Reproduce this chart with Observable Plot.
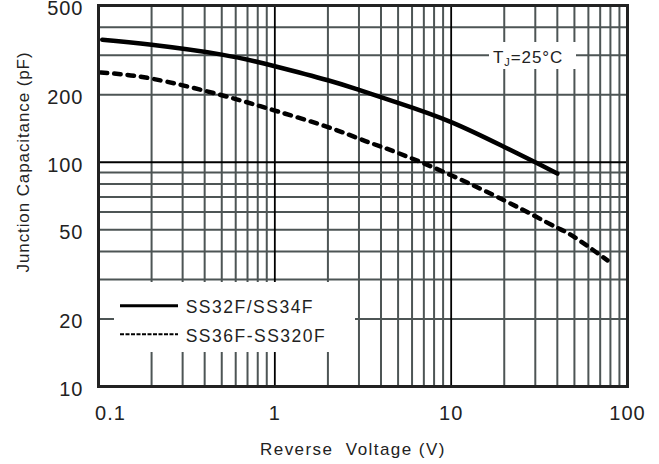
<!DOCTYPE html>
<html><head><meta charset="utf-8">
<script src="https://cdn.jsdelivr.net/npm/d3@7"></script>
<script src="https://cdn.jsdelivr.net/npm/@observablehq/plot@0.6"></script>
<style>
body{margin:0;background:#fff;}
#chart svg{display:block;}
</style></head><body><div id="chart"></div>
<script>
// Data
const voltageSolid = [0.105, 0.2, 0.5, 1, 2, 3, 5, 10, 20, 30, 40];
const capSolid     = [352, 334, 302, 268, 232, 210, 184, 151, 117, 100, 89];
const voltageDashed = [0.103, 0.2, 0.5, 1, 2, 3.29, 5, 10, 20, 30, 40, 50, 77];
const capDashed     = [251, 236, 199, 170, 143.5, 124, 110, 87.5, 67.6, 57.4, 51, 46.4, 36.5];
const seriesNames = ["SS32F/SS34F", "SS36F-SS320F"];
const xTicks = [0.1, 1, 10, 100];
const yTicks = [10, 20, 50, 100, 200, 500];
const minorX = [0.2,0.3,0.4,0.5,0.6,0.7,0.8,0.9, 2,3,4,5,6,7,8,9, 20,30,40,50,60,70,80,90];
const minorY = [20,30,40,50,60,70,80,90, 200,300,400];
const majorX = [1, 10];
const majorY = [100];
const xTitle = "Reverse  Voltage (V)";
const yTitle = "Junction Capacitance (pF)";
const condition = ["T", "J", "=25°C"];

const solid = voltageSolid.map((v, i) => ({v, c: capSolid[i]}));
const dashed = voltageDashed.map((v, i) => ({v, c: capDashed[i]}));

const gridColor = "#4d5555";
const font = "'Liberation Sans', Arial, sans-serif";

const plot = Plot.plot({
  width: 659, height: 464,
  marginLeft: 98, marginRight: 32, marginTop: 5, marginBottom: 78,
  x: {type: "log", domain: [0.1, 100], label: null},
  y: {type: "log", domain: [10, 500], label: null},
  style: {fontFamily: font, background: "white", color: "#222", overflow: "visible"},
  marks: [
    Plot.ruleX(minorX, {stroke: gridColor, strokeWidth: 2}),
    Plot.ruleY(minorY, {stroke: gridColor, strokeWidth: 2}),
    Plot.ruleX(majorX, {stroke: "black", strokeWidth: 1.8}),
    Plot.ruleY(majorY, {stroke: "black", strokeWidth: 1.8}),
    Plot.line(solid, {x: "v", y: "c", stroke: "black", strokeWidth: 4.5, curve: "natural"}),
    Plot.line(dashed, {x: "v", y: "c", stroke: "black", strokeWidth: 4.5, curve: "natural", strokeLinecap: "round", strokeDasharray: "6.5,7"}),
    Plot.frame({stroke: "#222", strokeWidth: 3}),
    Plot.axisX(xTicks.slice(1), {tickSize: 0, tickPadding: 19, fontSize: 20, label: null, tickFormat: d => String(d)}),
    Plot.axisX(xTicks.slice(0, 1), {tickSize: 0, tickPadding: 19, fontSize: 20, label: null, dx: 12, tickFormat: d => String(d)}),
    Plot.axisY(yTicks, {tickSize: 0, tickPadding: 15, fontSize: 20, label: null, dy: 3, tickFormat: d => String(d)})
  ]
});
document.getElementById("chart").appendChild(plot);

const svg = d3.select(plot);
svg.selectAll("g[aria-label='x-axis tick label'] text, g[aria-label='y-axis tick label'] text")
  .style("letter-spacing", "1px");

// Titles
svg.append("text").attr("x", 260).attr("y", 455).attr("text-anchor", "start")
  .attr("font-size", 17).attr("fill", "#222").style("letter-spacing", "1.45px").style("white-space", "pre")
  .attr("font-family", font).text(xTitle);
svg.append("text").attr("transform", "translate(29,162) rotate(-90)").attr("text-anchor", "middle")
  .attr("font-size", 17).attr("fill", "#222").style("letter-spacing", "0.9px")
  .attr("font-family", font).text(yTitle);

// Condition label
svg.append("rect").attr("x", 489).attr("y", 42).attr("width", 87).attr("height", 27).attr("fill", "white");
const tl = svg.append("text").attr("x", 493).attr("y", 62.7).attr("text-anchor", "start")
  .attr("font-size", 17).attr("fill", "#222")
  .attr("font-family", font).style("letter-spacing", "0.9px");
tl.append("tspan").text(condition[0]);
tl.append("tspan").attr("font-size", 11).attr("dy", 3).text(condition[1]);
tl.append("tspan").attr("dy", -3).text(condition[2]);

// Legend
svg.append("rect").attr("x", 114).attr("y", 282).attr("width", 241).attr("height", 70).attr("fill", "white");
svg.append("line").attr("x1", 120).attr("x2", 178).attr("y1", 305.7).attr("y2", 305.7)
  .attr("stroke", "black").attr("stroke-width", 3);
svg.append("line").attr("x1", 120).attr("x2", 178).attr("y1", 334.3).attr("y2", 334.3)
  .attr("stroke", "black").attr("stroke-width", 2).attr("stroke-dasharray", "4,1.5");
[312.7, 341.7].forEach((yy, i) => {
  svg.append("text").attr("x", 185.7).attr("y", yy).attr("text-anchor", "start")
    .attr("font-size", 17.5).attr("fill", "#222")
    .attr("font-family", font).style("letter-spacing", "1.5px").text(seriesNames[i]);
});
</script>
</body></html>
